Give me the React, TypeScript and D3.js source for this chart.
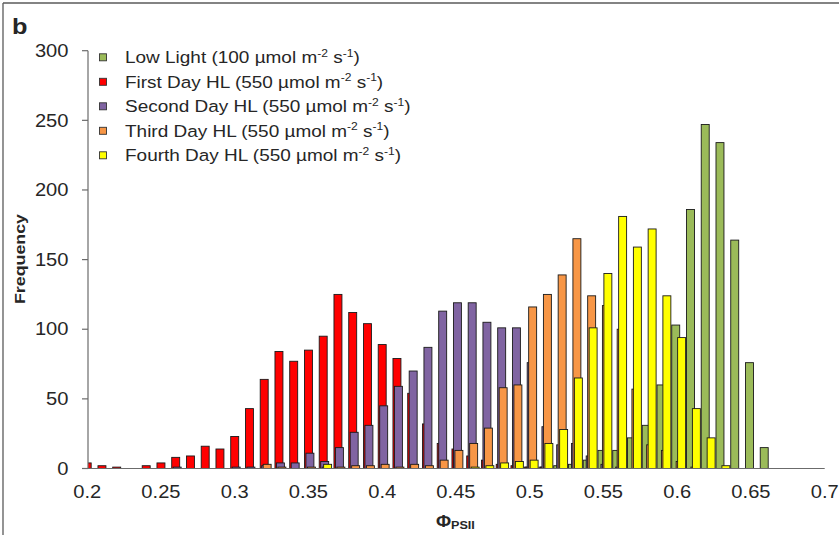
import React from "react";
import * as d3 from "d3";

// Histogram bins (Φ_PSII class centres)
const bins = [
  0.2, 0.21, 0.22, 0.23, 0.24, 0.25, 0.26, 0.27, 0.28, 0.29,
  0.3, 0.31, 0.32, 0.33, 0.34, 0.35, 0.36, 0.37, 0.38, 0.39,
  0.4, 0.41, 0.42, 0.43, 0.44, 0.45, 0.46, 0.47, 0.48, 0.49,
  0.5, 0.51, 0.52, 0.53, 0.54, 0.55, 0.56, 0.57, 0.58, 0.59,
  0.6, 0.61, 0.62, 0.63, 0.64, 0.65, 0.66,
];

// Frequencies per bin for each light treatment
const lowLight = [
  0, 0, 0, 0, 0, 0, 0, 0, 0, 0,
  0, 0, 0, 0, 0, 0, 0, 0, 0, 0,
  0, 0, 0, 0, 0, 0, 0, 0, 0, 0,
  1, 1, 2, 3, 6, 13, 13, 22, 31, 60,
  103, 186, 247, 234, 164, 76, 15,
];
const firstDay = [
  4, 2, 1, 0, 2, 4, 8, 9, 16, 14,
  23, 43, 64, 84, 77, 85, 95, 125, 112, 104,
  89, 79, 54, 32, 18, 14, 9, 6, 3, 2,
  1, 1, 0, 0, 0, 0, 0, 0, 0, 0,
  0, 0, 0, 0, 0, 0, 0,
];
const secondDay = [
  0, 0, 0, 0, 0, 0, 1, 0, 0, 0,
  1, 1, 2, 4, 4, 11, 5, 15, 26, 31,
  45, 59, 70, 87, 113, 119, 119, 105, 101, 101,
  76, 30, 17, 18, 9, 3, 1, 0, 0, 0,
  0, 0, 0, 0, 0, 0, 0,
];
const thirdDay = [
  0, 0, 0, 0, 0, 0, 0, 0, 0, 0,
  0, 0, 3, 1, 0, 1, 1, 1, 2, 2,
  3, 1, 3, 2, 6, 13, 18, 29, 58, 60,
  116, 125, 139, 165, 124, 117, 100, 57, 17, 13,
  5, 1, 0, 0, 0, 0, 0,
];
const fourthDay = [
  0, 0, 0, 0, 0, 0, 0, 0, 0, 0,
  0, 0, 0, 0, 0, 0, 3, 0, 0, 0,
  0, 0, 0, 0, 0, 0, 1, 2, 4, 5,
  6, 18, 28, 65, 101, 140, 181, 159, 172, 124,
  94, 43, 22, 2, 0, 0, 0,
];

const seriesNames = [
  "Low Light (100 µmol m",
  "First Day HL (550 µmol m",
  "Second Day HL (550 µmol m",
  "Third Day HL (550 µmol m",
  "Fourth Day HL (550 µmol m",
];
const seriesValues = [lowLight, firstDay, secondDay, thirdDay, fourthDay];
const seriesColors = ["#9BBB59", "#FF0000", "#8064A2", "#F79646", "#FFFF00"];

const xTicks = [0.2, 0.25, 0.3, 0.35, 0.4, 0.45, 0.5, 0.55, 0.6, 0.65, 0.7];
const yTicks = [0, 50, 100, 150, 200, 250, 300];

const W = 839;
const H = 535;
const FONT = "'Liberation Sans', Arial, sans-serif";
const SX = 1.15; // horizontal text stretch
const AXIS = "#6b6b6b";
const TEXT = "#262626";

const x = d3.scaleLinear().domain([0.2, 0.7]).range([87.2, 824.7]);
const y = d3.scaleLinear().domain([0, 300]).range([468.5, 50.7]);
const axisX = 88;

const binStep = x(0.21) - x(0.2);
const barW = binStep * 0.54;
const seriesStep = binStep * 0.1;
const seriesShift = (i: number) => (i - 1) * seriesStep;

function SText(props: {
  x: number;
  y: number;
  size: number;
  anchor?: string;
  bold?: boolean;
  rotate?: number;
  children: React.ReactNode;
}) {
  const { x: tx, y: ty, size, anchor = "start", bold, rotate = 0, children } = props;
  return (
    <g transform={`translate(${tx},${ty}) rotate(${rotate}) scale(${SX},1)`}>
      <text
        x={0}
        y={0}
        fontFamily={FONT}
        fontSize={size}
        fontWeight={bold ? "bold" : "normal"}
        textAnchor={anchor}
        fill={TEXT}
      >
        {children}
      </text>
    </g>
  );
}

export default function App() {
  const legendY = [57.3, 81.8, 106.3, 130.8, 155.3];

  return (
    <svg
      width={W}
      height={H}
      style={{ position: "absolute", left: 0, top: 0, background: "#fff" }}
    >
      <defs>
        <clipPath id="plotClip">
          <rect x={axisX} y={0} width={W - axisX} height={y(0) + 0.5} />
        </clipPath>
      </defs>
      <rect x={0} y={0} width={W} height={H} fill="#fff" />
      {/* chart frame */}
      <line x1={3} y1={3} x2={W} y2={3} stroke="#5a5a5a" strokeWidth={1.3} />
      <line x1={3} y1={3} x2={3} y2={H} stroke="#5a5a5a" strokeWidth={1.3} />

      <SText x={12} y={33.5} size={22} bold>
        b
      </SText>

      {/* bars */}
      <g clipPath="url(#plotClip)">
        {seriesValues.map((vals, si) => (
          <g key={si}>
            {vals.map((v, bi) =>
              v > 0 ? (
                <rect
                  key={bi}
                  x={x(bins[bi]) + seriesShift(si) - barW / 2}
                  y={y(v)}
                  width={barW}
                  height={y(0) - y(v)}
                  fill={seriesColors[si]}
                  stroke="#1a1a1a"
                  strokeWidth={0.9}
                />
              ) : null
            )}
          </g>
        ))}
      </g>

      {/* y axis */}
      <line x1={axisX} y1={y(300)} x2={axisX} y2={y(0)} stroke={AXIS} strokeWidth={1.2} />
      {yTicks.map((t) => (
        <g key={t}>
          <line x1={axisX - 6} x2={axisX} y1={y(t)} y2={y(t)} stroke={AXIS} strokeWidth={1.2} />
          <SText x={68.5} y={y(t) + 6.2} size={17.5} anchor="end">
            {t}
          </SText>
        </g>
      ))}

      {/* x axis */}
      <line x1={axisX - 6} x2={x(0.7)} y1={y(0)} y2={y(0)} stroke={AXIS} strokeWidth={1.2} />
      {xTicks.map((t) => (
        <SText key={t} x={x(t)} y={498.3} size={17.5} anchor="middle">
          {String(t)}
        </SText>
      ))}

      {/* axis titles */}
      <SText x={24.5} y={259} size={15.5} bold anchor="middle" rotate={-90}>
        Frequency
      </SText>
      <SText x={436} y={527} size={16} bold>
        Φ
      </SText>
      <SText x={451} y={529} size={11} bold>
        PSII
      </SText>

      {/* legend */}
      {seriesNames.map((name, i) => (
        <g key={name}>
          <rect
            x={99.5}
            y={legendY[i] - 3.5}
            width={7}
            height={7}
            fill={seriesColors[i]}
            stroke="#333"
            strokeWidth={0.9}
          />
          <SText x={125} y={legendY[i] + 5.8} size={16.5}>
            {name}
            <tspan fontSize={10.5} dy={-6.5}>-2</tspan>
            <tspan dy={6.5}> s</tspan>
            <tspan fontSize={10.5} dy={-6.5}>-1</tspan>
            <tspan dy={6.5}>)</tspan>
          </SText>
        </g>
      ))}
    </svg>
  );
}
